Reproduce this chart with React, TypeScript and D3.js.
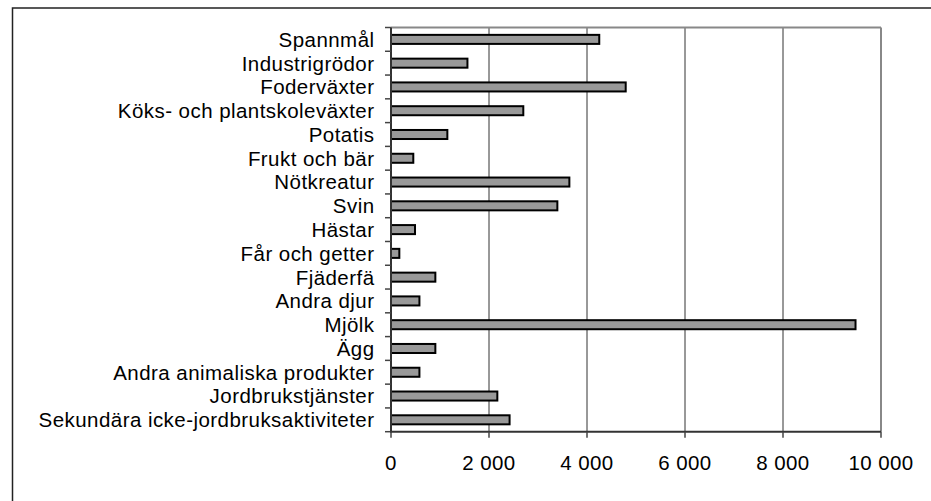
import React from "react";
import { scaleLinear, scaleBand } from "d3";

// Produktionsvärde per kategori
const categories = [
  "Spannmål",
  "Industrigrödor",
  "Foderväxter",
  "Köks- och plantskoleväxter",
  "Potatis",
  "Frukt och bär",
  "Nötkreatur",
  "Svin",
  "Hästar",
  "Får och getter",
  "Fjäderfä",
  "Andra djur",
  "Mjölk",
  "Ägg",
  "Andra animaliska produkter",
  "Jordbrukstjänster",
  "Sekundära icke-jordbruksaktiviteter",
];
const values = [4250, 1560, 4790, 2700, 1150, 455, 3640, 3395, 490, 170, 905, 580, 9480, 905, 580, 2170, 2420];
const xTicks = [0, 2000, 4000, 6000, 8000, 10000];
const xTickLabels = ["0", "2 000", "4 000", "6 000", "8 000", "10 000"];

const W = 931;
const H = 501;
const plot = { left: 391, top: 27.5, right: 881, bottom: 431.7 };
const font = "'Liberation Sans', Arial, sans-serif";

export default function App() {
  const x = scaleLinear().domain([0, 10000]).range([plot.left, plot.right]);
  const y = scaleBand()
    .domain(categories)
    .range([plot.top, plot.bottom])
    .paddingInner(0.62)
    .paddingOuter(0.31);
  const step = y.step();
  const top = plot.top;

  return (
    <svg
      width={W}
      height={H}
      style={{ position: "absolute", left: 0, top: 0, background: "#fff" }}
    >
      {/* yttre ram */}
      <rect x={12.5} y={8} width={W + 20} height={H + 20} fill="none" stroke="#222" strokeWidth={1.5} />

      {/* stödlinjer */}
      {xTicks.slice(1, -1).map((t) => (
        <line key={t} x1={x(t)} x2={x(t)} y1={top} y2={plot.bottom} stroke="#333" strokeWidth={1} />
      ))}
      {/* ram ovan och höger */}
      <line x1={plot.left} x2={plot.right} y1={top} y2={top} stroke="#888" strokeWidth={2} />
      <line x1={plot.right} x2={plot.right} y1={top} y2={plot.bottom} stroke="#888" strokeWidth={2} />

      {/* staplar */}
      {categories.map((c, i) => (
        <rect
          key={c}
          x={x(0)}
          y={y(c)}
          width={x(values[i]) - x(0)}
          height={y.bandwidth()}
          fill="#999999"
          stroke="#000"
          strokeWidth={2}
        />
      ))}

      {/* y-axel */}
      <line x1={plot.left} x2={plot.left} y1={top} y2={plot.bottom + 1} stroke="#333" strokeWidth={2} />
      {categories.map((c, i) => (
        <line key={"yt" + i} x1={plot.left - 6} x2={plot.left} y1={top + i * step} y2={top + i * step} stroke="#444" strokeWidth={1.5} />
      ))}
      <line x1={plot.left - 6} x2={plot.left} y1={plot.bottom} y2={plot.bottom} stroke="#444" strokeWidth={1.5} />
      {categories.map((c) => (
        <text
          key={"l" + c}
          x={374.5}
          y={(y(c) as number) + y.bandwidth() / 2}
          dy="0.36em"
          textAnchor="end"
          fontFamily={font}
          fontSize={20.5}
          letterSpacing={0.45}
          fill="#000"
        >
          {c}
        </text>
      ))}

      {/* x-axel */}
      <line x1={plot.left - 1} x2={plot.right} y1={plot.bottom} y2={plot.bottom} stroke="#333" strokeWidth={2} />
      {xTicks.map((t, i) => (
        <g key={"xt" + t}>
          <line x1={x(t)} x2={x(t)} y1={plot.bottom} y2={plot.bottom + 6} stroke="#444" strokeWidth={1.5} />
          <text x={x(t)} y={470} textAnchor="middle" fontFamily={font} fontSize={20.5} letterSpacing={0.4} fill="#000">
            {xTickLabels[i]}
          </text>
        </g>
      ))}
    </svg>
  );
}
